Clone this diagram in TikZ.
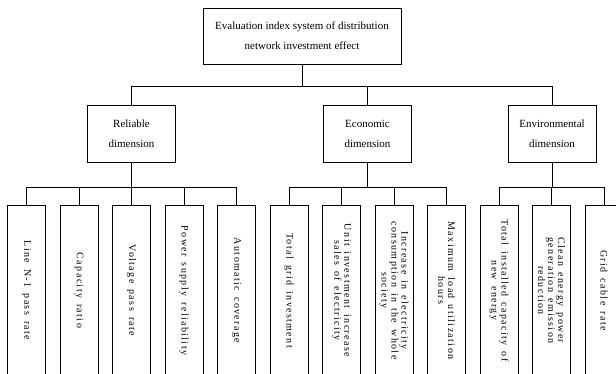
\documentclass[tikz,border=0pt]{standalone}
\usepackage{fontspec}
\setmainfont{Liberation Serif}
\newfontfamily\leaffont[LetterSpace=14]{Liberation Serif}
\newcommand\leaftext{\leaffont\fontsize{10}{10}\selectfont\spaceskip 6pt plus 1pt\relax}
\usetikzlibrary{positioning}

\tikzset{
  box/.style={draw, line width=0.6pt, align=center, inner sep=1pt,
    font=\fontsize{11}{20}\selectfont},
  dimbox/.style={box, minimum width=88pt, minimum height=57pt},
  leaf/.style={draw, line width=0.6pt, rotate=-90, align=center, inner sep=1pt,
    minimum width=171pt, minimum height=38pt, font=\leaftext},
  link/.style={line width=0.6pt}
}

\begin{document}
\begin{tikzpicture}[x=1pt, y=-1pt]

    \useasboundingbox (0,0) rectangle (616,374);
    \clip (0,0) rectangle (616,374);

    % top of the tree
    \node[box, minimum width=198pt, minimum height=56pt] (root) at (302,36)
      {Evaluation index system of distribution\\network investment effect};

    % the three dimensions
    \node[dimbox] (rel) at (131.5,133.5) {Reliable\\dimension};
    \node[dimbox] (eco) at (367.5,133.5) {Economic\\dimension};
    \node[dimbox] (env) at (552,133.5) {Environmental\\dimension};

    % heights of the two horizontal bars
    \coordinate (bus) at (0,86);
    \coordinate (sub) at (0,187);

    \foreach \d in {rel, eco, env}
      \draw[link] (root.south) -- (root.south |- bus) -| (\d.north);

    % the twelve indexes, read top to bottom
    \foreach \t [count=\i] in {
        Line N-1 pass rate,
        Capacity ratio,
        Voltage pass rate,
        Power supply reliability,
        Automatic coverage,
        Total grid investment,
        Unit investment increase\\sales of electricity,
        Increase in electricity\\consumption in the whole\\society,
        Maximum load utilization\\hours,
        Total installed capacity of\\new energy,
        Clean energy power\\generation emission\\reduction,
        Grid cable rate}
      \node[leaf] (l\i) at ({26.5+52.5*(\i-1)},290.5) {\t};

    % rotated leaves: their west side is on top
    \foreach \i in {1,...,5}
      \draw[link] (rel.south) -- (rel.south |- sub) -| (l\i.west);
    \foreach \i in {6,...,9}
      \draw[link] (eco.south) -- (eco.south |- sub) -| (l\i.west);
    \foreach \i in {10,...,12}
      \draw[link] (env.south) -- (env.south |- sub) -| (l\i.west);

\end{tikzpicture}
\end{document}
